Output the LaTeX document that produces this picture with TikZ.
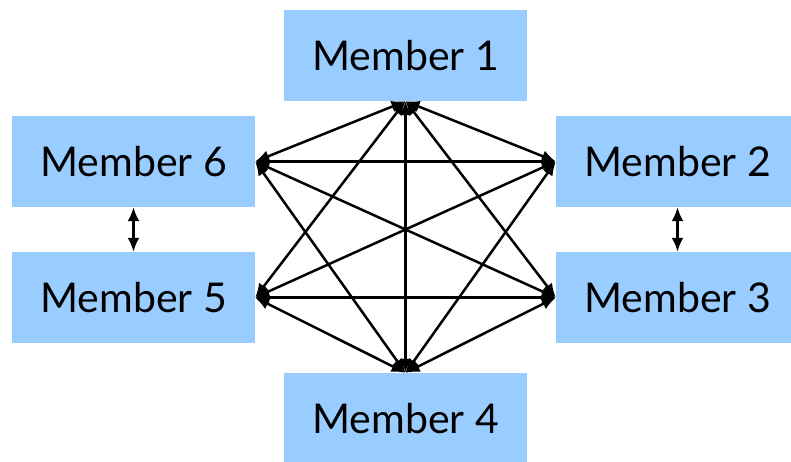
\documentclass[tikz,border=0pt]{standalone}
\usepackage{fontspec}
\setmainfont{Lato}
\usepackage{tikz}
\usetikzlibrary{arrows.meta,positioning}
\definecolor{memberblue}{HTML}{99CCFF}
\tikzset{>={Latex[length=14pt,width=12pt]}}
\tikzset{
  member/.style={fill=memberblue,minimum width=243pt,minimum height=91pt,
    inner sep=0pt,font=\fontsize{41}{48}\selectfont},
  link/.style={<->,line width=2.5pt}
}

\begin{document}
\begin{tikzpicture}[x=1pt,y=1pt]

            \useasboundingbox (0,0) rectangle (791,461);
            \clip (0,0) rectangle (791,461);
            \node[member] (m1) at (405.5,405.5) {Member 1};
            \node[member] (m6) at (133.5,299.5) {Member 6};
            \node[member] (m2) at (677.5,299.5) {Member 2};
            \node[member] (m5) at (133.5,163.5) {Member 5};
            \node[member] (m3) at (677.5,163.5) {Member 3};
            \node[member] (m4) at (405.5,42.5) {Member 4};
            \foreach \a/\b in {m1.south/m2.west,m1.south/m3.west,m1.south/m4.north,
                               m1.south/m5.east,m1.south/m6.east,m2.west/m4.north,
                               m2.west/m5.east,m2.west/m6.east,m3.west/m4.north,
                               m3.west/m5.east,m3.west/m6.east,m4.north/m5.east,
                               m4.north/m6.east}
              {
                \draw[link] (\a) -- (\b);
              }
            \draw[link] (m6) -- (m5);
            \draw[link] (m2) -- (m3);
          \end{tikzpicture}
\end{document}
